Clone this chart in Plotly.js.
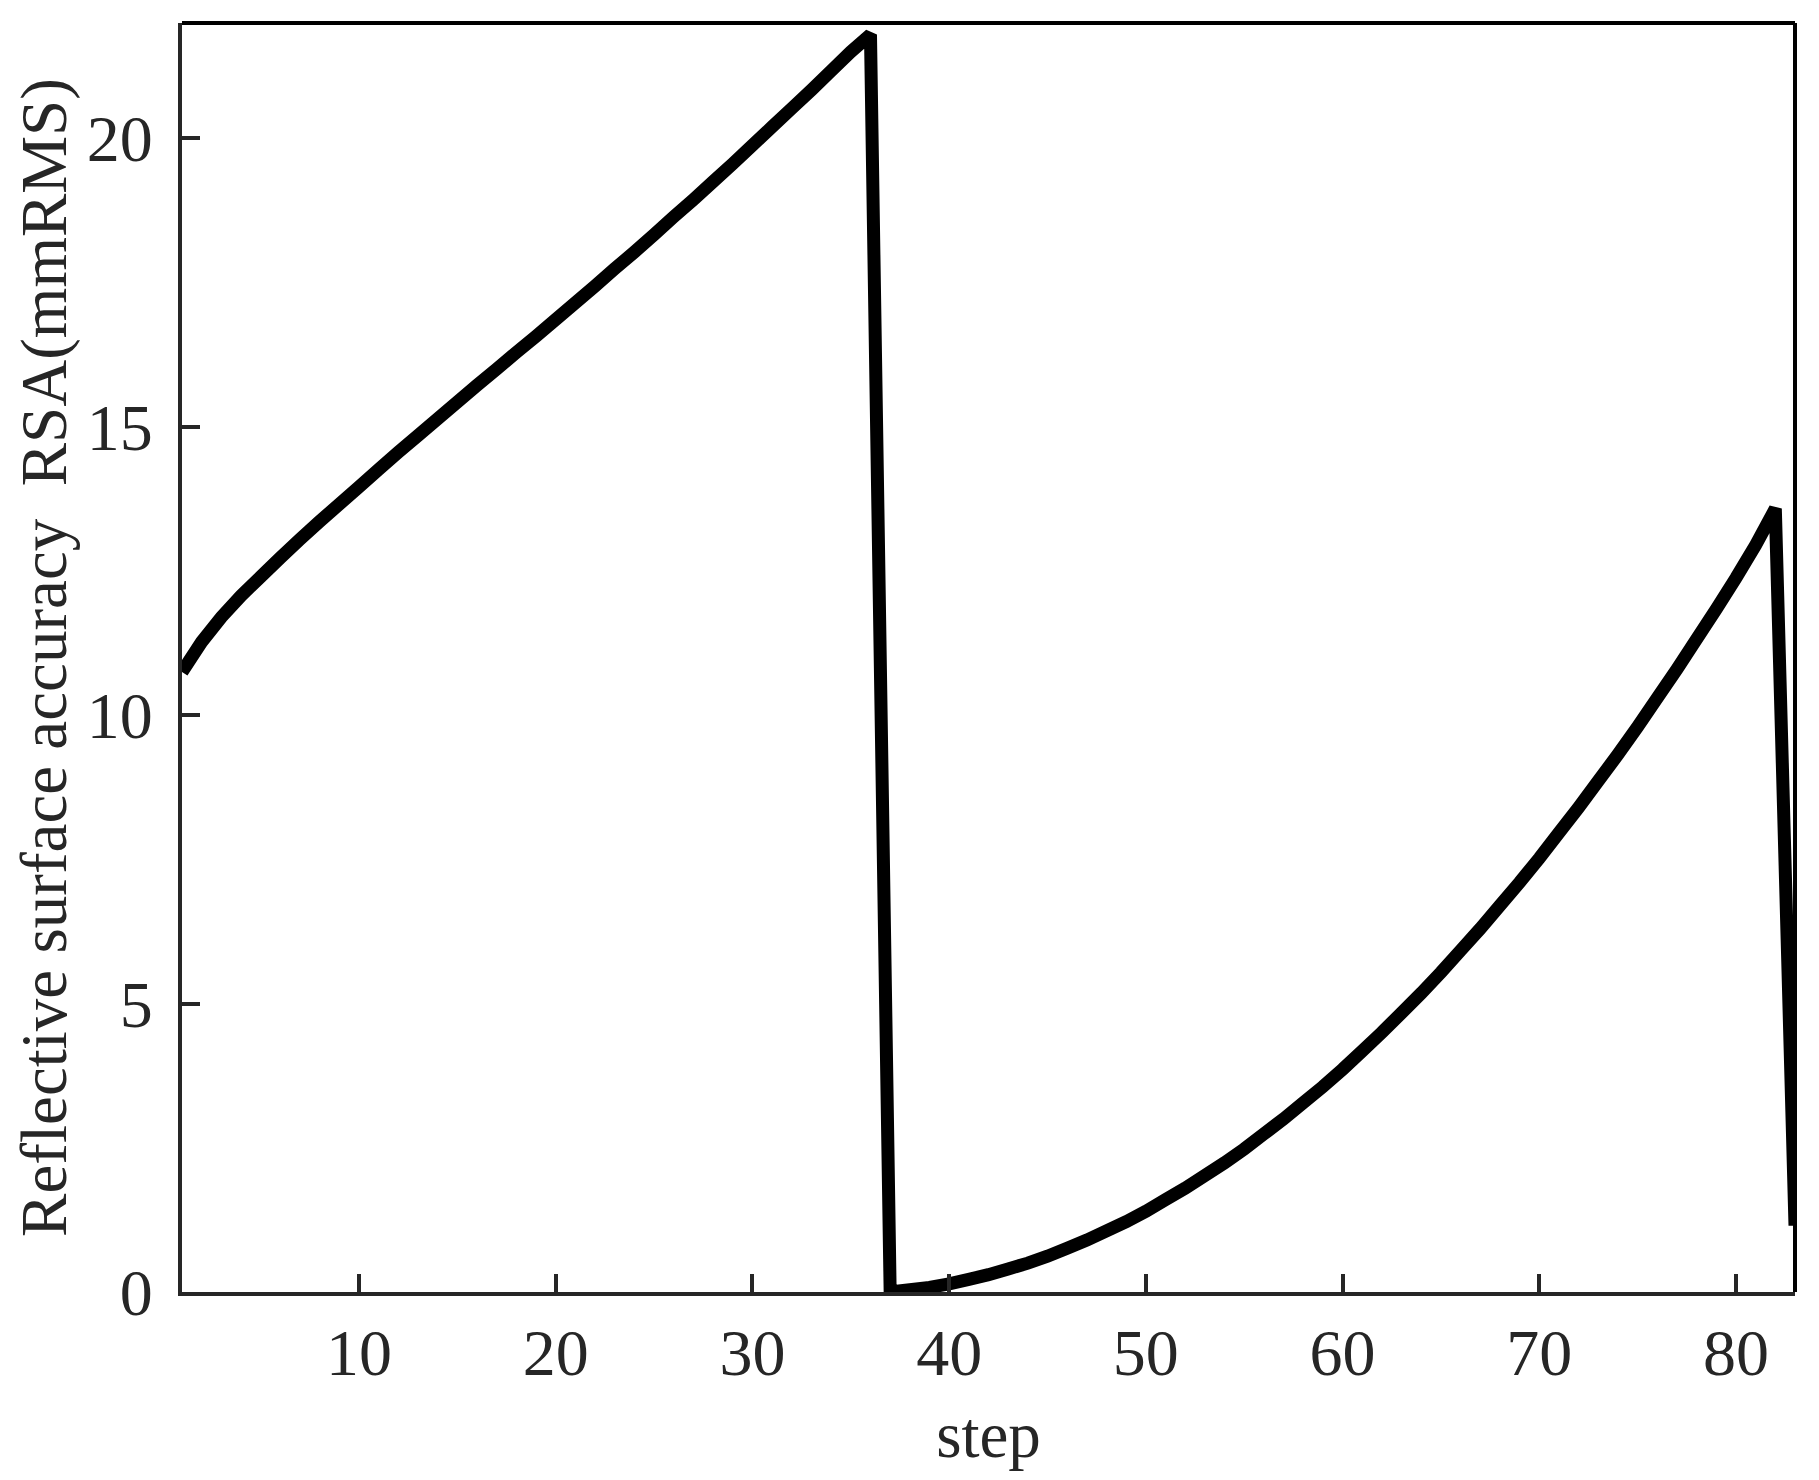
<!DOCTYPE html>
<html>
<head>
<meta charset="utf-8">
<script src="https://cdn.plot.ly/plotly-3.0.1.min.js"></script>
<style>
  body { margin: 0; background: #fff; }
  #chart { width: 1819px; height: 1480px; }
</style>
</head>
<body>
<div id="chart"></div>
<script>
// step index 1..83
const steps = [];
for (let i = 1; i <= 83; i++) steps.push(i);

// RSA values (mmRMS)
const rsaFirstCycle = [
  10.75, 11.27, 11.70, 12.07, 12.40, 12.73, 13.05, 13.36, 13.66, 13.96,
  14.26, 14.56, 14.85, 15.14, 15.43, 15.72, 16.00, 16.29, 16.57, 16.86,
  17.15, 17.44, 17.74, 18.03, 18.33, 18.64, 18.94, 19.25, 19.56, 19.88,
  20.20, 20.52, 20.84, 21.17, 21.50, 21.80
];
const rsaSecondCycle = [
  0.00, 0.04, 0.08, 0.14, 0.22, 0.30, 0.40, 0.50, 0.62, 0.76,
  0.90, 1.06, 1.22, 1.40, 1.60, 1.80, 2.02, 2.24, 2.48, 2.74,
  3.00, 3.28, 3.56, 3.86, 4.18, 4.50, 4.84, 5.18, 5.54, 5.92,
  6.30, 6.70, 7.10, 7.52, 7.96, 8.40, 8.86, 9.32, 9.80, 10.30,
  10.80, 11.32, 11.84, 12.38, 12.95, 13.58
];
const rsaLast = [1.15];
const rsa = rsaFirstCycle.concat(rsaSecondCycle, rsaLast);

const xTicks = [10, 20, 30, 40, 50, 60, 70, 80];
const yTicks = [0, 5, 10, 15, 20];

const serif = 'Liberation Serif, Times New Roman, serif';
const ink = '#262626';

Plotly.newPlot('chart', [
  {
    x: steps,
    y: rsa,
    type: 'scatter',
    mode: 'lines',
    line: { color: '#000000', width: 13, simplify: false },
    hoverinfo: 'skip',
  },
], {
  width: 1819,
  height: 1480,
  margin: { l: 182, r: 24, t: 23, b: 188 },
  paper_bgcolor: '#ffffff',
  plot_bgcolor: '#ffffff',
  showlegend: false,
  font: { family: serif, color: ink },
  xaxis: {
    range: [1, 83],
    tickvals: xTicks,
    ticks: 'inside',
    ticklen: 18,
    tickwidth: 4,
    tickcolor: ink,
    showline: true,
    linecolor: ink,
    linewidth: 4,
    showgrid: false,
    zeroline: false,
    tickfont: { family: serif, size: 66, color: ink },
    ticklabelstandoff: 0,
    title: { text: 'step', font: { family: serif, size: 65, color: ink }, standoff: 24 },
  },
  yaxis: {
    range: [0, 22],
    tickvals: yTicks,
    ticks: 'inside',
    ticklen: 18,
    tickwidth: 4,
    tickcolor: ink,
    showline: true,
    linecolor: ink,
    linewidth: 4,
    showgrid: false,
    zeroline: false,
    tickfont: { family: serif, size: 66, color: ink },
    ticklabelstandoff: 12,
    title: {
      text: 'Reflective surface accuracy\u00a0\u00a0RSA(mmRMS)',
      font: { family: serif, size: 65, color: ink },
      standoff: 0,
    },
  },
  shapes: [
    { type: 'line', xref: 'paper', yref: 'paper', x0: 0, x1: 1, y0: 1, y1: 1,
      line: { color: '#000000', width: 4 } },
    { type: 'line', xref: 'paper', yref: 'paper', x0: 1, x1: 1, y0: 0, y1: 1,
      line: { color: '#000000', width: 4 } },
  ],
}, { displayModeBar: false, staticPlot: true });
</script>
</body>
</html>
